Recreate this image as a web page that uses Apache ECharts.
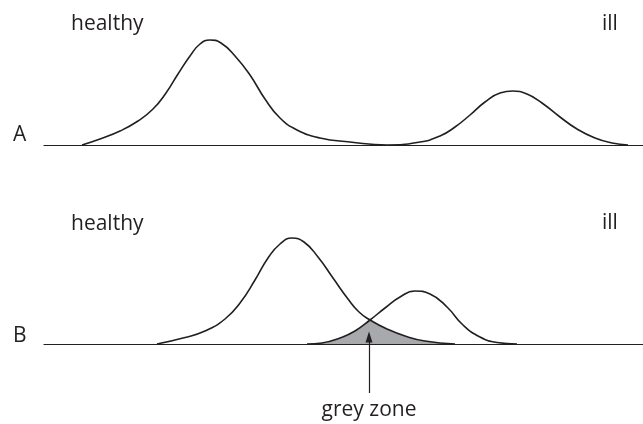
<!DOCTYPE html>
<html>
<head>
<meta charset="utf-8">
<style>
  html, body { margin: 0; padding: 0; background: #fff; }
  #chart { width: 643px; height: 424px; }
</style>
<script src="https://cdn.jsdelivr.net/npm/echarts@6/dist/echarts.min.js"></script>
</head>
<body>
<div id="chart"></div>
<script>
// panel A: one curve, two humps (healthy, ill) well apart
// [position, height above baseline]
const curveA = [
  [82, 0], [100, 6], [120, 14], [138, 24], [153, 36], [166, 52], [178, 71],
  [190, 89], [200, 101], [210, 105], [221, 102], [235, 89], [250, 70],
  [265, 46], [280, 27], [297, 15], [320, 7], [350, 3], [387, 0], [420, 3],
  [440, 9], [455, 18], [470, 30], [485, 43], [500, 52], [513, 54], [527, 51],
  [542, 42], [560, 28], [577, 16], [595, 7], [612, 2], [628, 0]
];

// panel B: overlapping distributions
const healthyB = [
  [157, 0], [183, 6], [205, 13], [225, 25], [240, 41], [255, 64], [268, 86],
  [280, 100], [292, 106], [304, 102], [318, 87], [333, 66], [348, 45],
  [359, 32], [370, 24], [387, 15], [405, 8], [425, 3], [455, 0]
];
const illB = [
  [307, 0], [322, 1], [340, 6], [355, 13], [370, 24], [385, 36], [400, 47],
  [415, 53], [430, 50], [447, 37], [463, 19], [480, 7], [497, 1.5], [517, 0]
];

// where the two curves cross
const crossX = 370;
// arrow pointing at the grey zone [from, to]
const arrowB = [[369, -49], [369, 7]];

const labels = {
  healthy: 'healthy',
  ill: 'ill',
  panelA: 'A',
  panelB: 'B',
  grey: 'grey zone'
};

const ink = '#231f20';
const greyFill = '#a7a9ac';
const font = '"Open Sans", "Noto Sans", sans-serif';

// grey zone = under ill curve up to the crossing, then under healthy curve
const greyLeft = illB.filter(p => p[0] <= crossX);
const greyRight = healthyB.filter(p => p[0] >= crossX);

function xAxisOf(gridIndex) {
  return {
    type: 'value',
    gridIndex: gridIndex,
    min: 44,
    max: 643,
    axisLine: { show: true, onZero: true, lineStyle: { color: ink, width: 1.2 } },
    axisTick: { show: false },
    axisLabel: { show: false },
    splitLine: { show: false }
  };
}
function yAxisOf(gridIndex, min, max) {
  return {
    type: 'value',
    gridIndex: gridIndex,
    min: min,
    max: max,
    show: false,
    splitLine: { show: false }
  };
}
function curve(name, data, gridIndex) {
  return {
    name: name,
    type: 'line',
    xAxisIndex: gridIndex,
    yAxisIndex: gridIndex,
    data: data,
    smooth: 0.5,
    symbol: 'none',
    lineStyle: { color: ink, width: 1.6 },
    z: 3
  };
}
function greyArea(name, data) {
  return {
    name: name,
    type: 'line',
    xAxisIndex: 1,
    yAxisIndex: 1,
    data: data,
    smooth: 0.5,
    symbol: 'none',
    lineStyle: { width: 0 },
    areaStyle: { color: greyFill, opacity: 1 },
    z: 1
  };
}
function text(str, x, y, align) {
  return {
    type: 'text',
    x: x,
    y: y,
    style: {
      text: str,
      fill: ink,
      font: '21px ' + font,
      align: align || 'left',
      verticalAlign: 'middle'
    }
  };
}

const chart = echarts.init(document.getElementById('chart'), null, { renderer: 'canvas' });

const illLine = curve('ill B', illB, 1);
illLine.markLine = {
  silent: true,
  symbol: ['none', 'triangle'],
  symbolSize: [7, 11],
  label: { show: false },
  lineStyle: { color: ink, width: 1.2, type: 'solid' },
  data: [[{ coord: arrowB[0] }, { coord: arrowB[1] }]]
};

chart.setOption({
  animation: false,
  backgroundColor: '#fff',
  grid: [
    { left: 44, right: 0, top: 20, height: 125 },
    { left: 44, right: 0, top: 219, height: 205 }
  ],
  xAxis: [xAxisOf(0), xAxisOf(1)],
  yAxis: [yAxisOf(0, 0, 125), yAxisOf(1, -80, 125)],
  series: [
    greyArea('grey left', greyLeft),
    greyArea('grey right', greyRight),
    curve('A', curveA, 0),
    curve('healthy B', healthyB, 1),
    illLine
  ],
  graphic: [
    text(labels.healthy, 71, 24),
    text(labels.ill, 602, 24),
    text(labels.panelA, 13, 135),
    text(labels.healthy, 71, 224),
    text(labels.ill, 602, 223),
    text(labels.panelB, 13, 336),
    text(labels.grey, 369, 410, 'center')
  ]
});
</script>
</body>
</html>
